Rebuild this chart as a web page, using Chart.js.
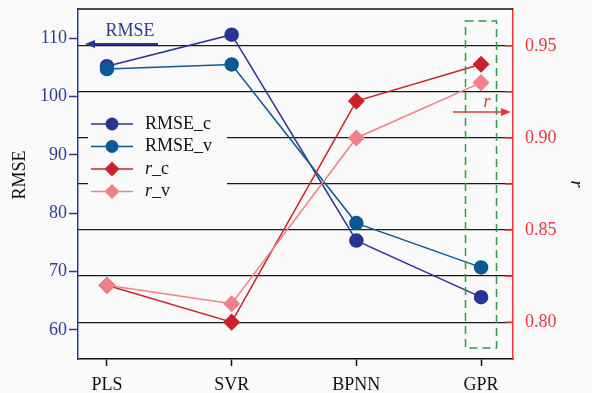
<!DOCTYPE html>
<html>
<head>
<meta charset="utf-8">
<script src="https://cdn.jsdelivr.net/npm/chart.js@4"></script>
<style>
  html, body { margin: 0; padding: 0; background: #fafafa; }
  #wrap { width: 592px; height: 393px; }
</style>
</head>
<body>
<div id="wrap"><canvas id="chart" width="592" height="393"></canvas></div>
<script>
// data
const categories = ['PLS', 'SVR', 'BPNN', 'GPR'];
const rmseC = [105.2, 110.6, 75.3, 65.6];
const rmseV = [104.7, 105.5, 78.3, 70.7];
const rC = [0.82, 0.80, 0.92, 0.94];
const rV = [0.82, 0.81, 0.90, 0.93];
const rmseTicks = [60, 70, 80, 90, 100, 110];
const rTicks = [0.80, 0.825, 0.85, 0.875, 0.90, 0.925, 0.95];

const SERIF = '"Liberation Serif", "DejaVu Serif", serif';
const BLUE_AX = '#2e3a96';
const RED_AX = '#e8383b';
const colors = {
    rmseC: '#283593',
    rmseV: '#0b5a94',
    rC: '#c8232b',
    rV: '#f08189'
};

function pts(arr) {
    return arr.map((v, i) => ({ x: i, y: v }));
}

const series = [
    { label: 'RMSE_c', data: rmseC, color: colors.rmseC, axis: 'y', style: 'circle', radius: 6.5, order: 4 },
    { label: 'RMSE_v', data: rmseV, color: colors.rmseV, axis: 'y', style: 'circle', radius: 6.5, order: 3 },
    { label: 'r_c', data: rC, color: colors.rC, axis: 'y1', style: 'rectRot', radius: 7.5, order: 2 },
    { label: 'r_v', data: rV, color: colors.rV, axis: 'y1', style: 'rectRot', radius: 7.5, order: 1 }
];

function arrow(ctx, x1, y1, x2, y2, color, width, head) {
    ctx.save();
    ctx.strokeStyle = color;
    ctx.fillStyle = color;
    ctx.lineWidth = width;
    const dir = Math.sign(x2 - x1);
    ctx.beginPath();
    ctx.moveTo(x1, y1);
    ctx.lineTo(x2 - dir * head, y2);
    ctx.stroke();
    ctx.beginPath();
    ctx.moveTo(x2, y2);
    ctx.lineTo(x2 - dir * head, y2 - head * 0.4);
    ctx.lineTo(x2 - dir * head, y2 + head * 0.4);
    ctx.closePath();
    ctx.fill();
    ctx.restore();
}

const extras = {
    id: 'extras',
    beforeDraw(chart) {
        const ctx = chart.ctx;
        ctx.save();
        ctx.fillStyle = '#fafafa';
        ctx.fillRect(0, 0, chart.width, chart.height);
        ctx.restore();
    },
    beforeDatasetsDraw(chart) {
        const ctx = chart.ctx;
        // legend box hides the grid behind it
        ctx.save();
        ctx.fillStyle = '#fafafa';
        ctx.fillRect(88, 102, 139, 100);
        ctx.restore();
    },
    afterDatasetsDraw(chart) {
        const ctx = chart.ctx;
        const a = chart.chartArea;
        const y1 = chart.scales.y1;

        // top frame line
        ctx.save();
        ctx.strokeStyle = '#111';
        ctx.lineWidth = 1.5;
        ctx.beginPath();
        ctx.moveTo(a.left, a.top);
        ctx.lineTo(a.right, a.top);
        ctx.stroke();

        // red inward ticks on right axis
        ctx.strokeStyle = RED_AX;
        ctx.lineWidth = 1.5;
        rTicks.forEach(v => {
            const y = y1.getPixelForValue(v);
            ctx.beginPath();
            ctx.moveTo(a.right - 8, y);
            ctx.lineTo(a.right, y);
            ctx.stroke();
        });

        // green dashed box round GPR
        ctx.strokeStyle = '#2f9a4c';
        ctx.lineWidth = 1.5;
        ctx.setLineDash([8, 5]);
        ctx.strokeRect(465.5, 21, 31, 327);
        ctx.setLineDash([]);

        // left axis title
        ctx.save();
        ctx.translate(20, 175);
        ctx.rotate(-Math.PI / 2);
        ctx.fillStyle = '#111';
        ctx.font = '18px ' + SERIF;
        ctx.textAlign = 'center';
        ctx.textBaseline = 'middle';
        ctx.fillText('RMSE', 0, 0);
        ctx.restore();

        // legend
        ctx.textBaseline = 'middle';
        ctx.textAlign = 'left';
        series.forEach((s, i) => {
            const y = 124 + i * 22.5;
            ctx.strokeStyle = s.color;
            ctx.fillStyle = s.color;
            ctx.lineWidth = 1.5;
            ctx.beginPath();
            ctx.moveTo(91, y);
            ctx.lineTo(133, y);
            ctx.stroke();
            ctx.beginPath();
            if (s.style === 'circle') {
                ctx.arc(112, y, 6.5, 0, Math.PI * 2);
            } else {
                ctx.moveTo(112, y - 7.5);
                ctx.lineTo(119.5, y);
                ctx.lineTo(112, y + 7.5);
                ctx.lineTo(104.5, y);
                ctx.closePath();
            }
            ctx.fill();
            ctx.fillStyle = '#111';
            if (s.label.startsWith('r_')) {
                ctx.font = 'italic 18px ' + SERIF;
                ctx.fillText('r', 145, y);
                const w = ctx.measureText('r').width;
                ctx.font = '18px ' + SERIF;
                ctx.fillText(s.label.slice(1), 145 + w, y);
            } else {
                ctx.font = '18px ' + SERIF;
                ctx.fillText(s.label, 145, y);
            }
        });

        // RMSE arrow pointing to left axis
        ctx.fillStyle = BLUE_AX;
        ctx.font = '18px ' + SERIF;
        ctx.textAlign = 'center';
        ctx.fillText('RMSE', 130, 31);
        arrow(ctx, 158, 44, 85, 44, '#283593', 2, 10);

        // r arrow pointing to right axis
        ctx.fillStyle = RED_AX;
        ctx.font = 'italic 18px ' + SERIF;
        ctx.fillText('r', 487, 102);
        arrow(ctx, 453, 112, 511, 112, RED_AX, 1.5, 10);
        ctx.restore();
    }
};

new Chart(document.getElementById('chart'), {
    type: 'line',
    data: {
        datasets: series.map(s => ({
            label: s.label,
            data: pts(s.data),
            yAxisID: s.axis,
            borderColor: s.color,
            backgroundColor: s.color,
            pointBackgroundColor: s.color,
            pointBorderColor: s.color,
            pointStyle: s.style,
            pointRadius: s.radius,
            borderWidth: 1.5,
            tension: 0,
            order: s.order
        }))
    },
    options: {
        responsive: false,
        animation: false,
        devicePixelRatio: 1,
        layout: { padding: { top: 6, left: 0, right: 0, bottom: 0 } },
        plugins: { legend: { display: false }, tooltip: { enabled: false } },
        scales: {
            x: {
                type: 'linear',
                min: -0.232,
                max: 3.256,
                afterBuildTicks: s => { s.ticks = categories.map((c, i) => ({ value: i })); },
                afterFit: s => { s.height = 34; s.paddingLeft = 0; s.paddingRight = 0; },
                ticks: {
                    color: '#111',
                    font: { family: SERIF, size: 18 },
                    padding: 8,
                    callback: v => categories[v]
                },
                grid: { drawOnChartArea: false, tickLength: 7, tickColor: '#111', tickWidth: 1.5 },
                border: { color: '#111', width: 1.5 }
            },
            y: {
                position: 'left',
                min: 55,
                max: 115,
                afterBuildTicks: s => { s.ticks = rmseTicks.map(v => ({ value: v })); },
                afterFit: s => { s.width = 78; s.paddingTop = 0; s.paddingBottom = 0; },
                ticks: {
                    color: BLUE_AX,
                    font: { family: SERIF, size: 18 },
                    padding: 2
                },
                grid: { drawOnChartArea: false, tickLength: 9, tickColor: BLUE_AX, tickWidth: 1.5 },
                border: { color: BLUE_AX, width: 1.5 }
            },
            y1: {
                position: 'right',
                min: 0.78,
                max: 0.97,
                afterBuildTicks: s => { s.ticks = rTicks.map(v => ({ value: v })); },
                afterFit: s => { s.width = 79; s.paddingTop = 0; s.paddingBottom = 0; },
                ticks: {
                    color: RED_AX,
                    font: { family: SERIF, size: 18 },
                    padding: 12,
                    callback: v => (Math.abs(v * 20 - Math.round(v * 20)) < 1e-6 ? v.toFixed(2) : '')
                },
                grid: { drawOnChartArea: true, drawTicks: false, color: '#1a1a1a', lineWidth: 1.3 },
                border: { color: RED_AX, width: 1.5 },
                title: {
                    display: true,
                    text: 'r',
                    color: '#111',
                    font: { family: SERIF, size: 18, style: 'italic' },
                    padding: { top: 5, bottom: 0 }
                }
            }
        }
    },
    plugins: [extras]
});
</script>
</body>
</html>
